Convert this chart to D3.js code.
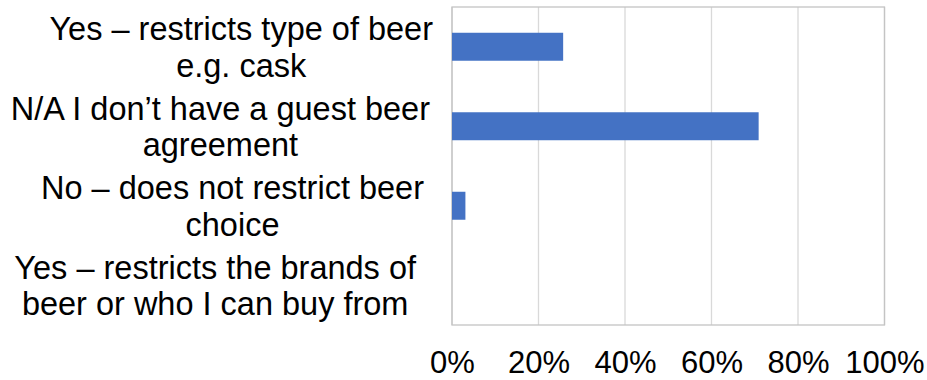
<!DOCTYPE html>
<html>
<head>
<meta charset="utf-8">
<script src="https://cdn.jsdelivr.net/npm/d3@7"></script>
<style>
  html, body { margin: 0; padding: 0; background: #fff; }
  svg { display: block; font-family: "Liberation Sans", Arial, sans-serif; }
</style>
</head>
<body>
<svg id="chart" width="927" height="380"></svg>
<script>
// Survey answers (top to bottom) and share of respondents
const categories = [
  "Yes – restricts type of beer e.g. cask",
  "N/A I don’t have a guest beer agreement",
  "No – does not restrict beer choice",
  "Yes – restricts the brands of beer or who I can buy from"
];
const labelLines = [
  ["Yes – restricts type of beer", "e.g. cask"],
  ["N/A I don’t have a guest beer", "agreement"],
  ["No – does not restrict beer", "choice"],
  ["Yes – restricts the brands of", "beer or who I can buy from"]
];
const values = [0.257, 0.709, 0.031, 0];
const xTicks = [0, 0.2, 0.4, 0.6, 0.8, 1.0];

const svg = d3.select("#chart");
const plot = { left: 452, right: 884.5, top: 7, bottom: 325 };

const x = d3.scaleLinear().domain([0, 1]).range([plot.left, plot.right]);
const y = d3.scaleBand()
  .domain(categories)
  .range([plot.top, plot.bottom])
  .paddingInner(0.648)
  .paddingOuter(0.324);

// vertical gridlines
svg.append("g")
  .selectAll("line")
  .data(xTicks)
  .join("line")
  .attr("x1", d => x(d)).attr("x2", d => x(d))
  .attr("y1", plot.top).attr("y2", plot.bottom)
  .attr("stroke", "#d9d9d9")
  .attr("stroke-width", 1.3);

// plot area frame
svg.append("rect")
  .attr("x", plot.left).attr("y", plot.top)
  .attr("width", plot.right - plot.left)
  .attr("height", plot.bottom - plot.top)
  .attr("fill", "none")
  .attr("stroke", "#c4c4c4")
  .attr("stroke-width", 1.3);

// bars
svg.append("g")
  .selectAll("rect")
  .data(categories.map((c, i) => ({ c, v: values[i] })))
  .join("rect")
  .attr("x", x(0))
  .attr("y", d => y(d.c))
  .attr("width", d => x(d.v) - x(0))
  .attr("height", y.bandwidth())
  .attr("fill", "#4472c4");

// x axis tick labels
const xAxis = d3.axisBottom(x)
  .tickValues(xTicks)
  .tickFormat(d3.format(".0%"))
  .tickSize(0)
  .tickPadding(0);
const gx = svg.append("g")
  .attr("transform", `translate(0,${plot.bottom})`)
  .call(xAxis);
gx.select(".domain").remove();
gx.selectAll("text")
  .attr("font-family", "'Liberation Sans', Arial, sans-serif")
  .attr("font-size", 31)
  .attr("fill", "#000")
  .attr("dy", null)
  .attr("y", 48);

// category labels: wrapped lines centred within their block, block right edge per label
const labelRight = [433, 430, 424, 416];
const lineHeight = 36.5;
const fontSize = 32.5;
const gy = svg.append("g");
categories.forEach((c, i) => {
  const lines = labelLines[i];
  const g = gy.append("g");
  const cy = y(c) + y.bandwidth() / 2;
  const texts = lines.map((ln, j) =>
    g.append("text")
      .attr("font-size", fontSize)
      .attr("fill", "#000")
      .attr("text-anchor", "middle")
      .attr("y", cy + (j - (lines.length - 1) / 2) * lineHeight + fontSize * 0.36)
      .text(ln)
  );
  const maxW = d3.max(texts, t => t.node().getComputedTextLength());
  texts.forEach(t => t.attr("x", labelRight[i] - maxW / 2));
});
</script>
</body>
</html>
